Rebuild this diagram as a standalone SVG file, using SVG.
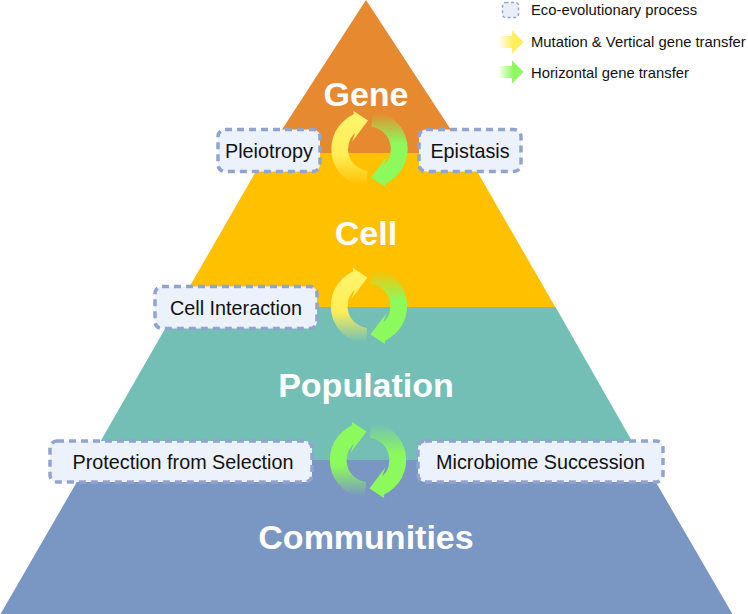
<svg xmlns="http://www.w3.org/2000/svg" xmlns:xlink="http://www.w3.org/1999/xlink" width="748" height="614" viewBox="0 0 748 614">
  <style>
    .lvl { font-family: "Liberation Sans", Arial, sans-serif; font-weight: bold; font-size: 34px; fill: #ffffff; text-anchor: middle; }
    .box rect { fill: #ECF2FB; stroke: #91A4CF; stroke-width: 3.5; stroke-dasharray: 7 5; }
    .box text { font-family: "Liberation Sans", Arial, sans-serif; font-size: 19.8px; fill: #111111; text-anchor: middle; }
    .leg { font-family: "Liberation Sans", Arial, sans-serif; font-size: 14.8px; fill: #111111; }
  </style>
  <defs>
    <linearGradient id="gy" x1="0" y1="0" x2="0" y2="1">
      <stop offset="0" stop-color="#FFF46C"/>
      <stop offset="0.58" stop-color="#FFEE58" stop-opacity="1"/>
      <stop offset="0.98" stop-color="#FFEE58" stop-opacity="0"/>
    </linearGradient>
    <linearGradient id="gg" x1="0" y1="0" x2="0" y2="1">
      <stop offset="0" stop-color="#8CF95C"/>
      <stop offset="0.58" stop-color="#8CF95C" stop-opacity="1"/>
      <stop offset="0.98" stop-color="#8CF95C" stop-opacity="0"/>
    </linearGradient>
    <linearGradient id="ly" x1="0" y1="0" x2="1" y2="0">
      <stop offset="0" stop-color="#FFEE58" stop-opacity="0"/>
      <stop offset="0.6" stop-color="#FFEE58" stop-opacity="1"/>
    </linearGradient>
    <linearGradient id="lg" x1="0" y1="0" x2="1" y2="0">
      <stop offset="0" stop-color="#8CF95C" stop-opacity="0"/>
      <stop offset="0.6" stop-color="#8CF95C" stop-opacity="1"/>
    </linearGradient>
    <path id="carrow" d="M -3.31 37.86 A 38 38 0 0 1 -15.7 -34.7 L -16.3 -38.2 L -1.5 -28.5 L -17.6 -7 L -14.2 -16.3 A 22 22 0 0 0 -1.92 21.92 Z"/>
  </defs>

  <g id="pyramid">
    <polygon id="band-gene" points="366,0 266.5,153.5 466.5,153.5" fill="#E6892F"/>
    <polygon id="band-cell" points="266.5,153 466.5,153 555.5,307.5 177.5,307.5" fill="#FFC000"/>
    <polygon id="band-population" points="177.5,307 555.5,307 643,460.5 89.5,460.5" fill="#73BFB5"/>
    <polygon id="band-communities" points="89.5,460 643,460 733,615 0,615" fill="#7A96C3"/>
  </g>

  <g id="labels">
    <text class="lvl" x="366" y="106">Gene</text>
    <text class="lvl" x="366" y="245">Cell</text>
    <text class="lvl" x="366" y="397">Population</text>
    <text class="lvl" x="366" y="549">Communities</text>
  </g>

  <g id="node-pleiotropy" class="box">
    <rect x="218" y="129.5" width="102" height="42" rx="7"/>
    <text x="269" y="158">Pleiotropy</text>
  </g>
  <g id="node-epistasis" class="box">
    <rect x="419" y="129.5" width="102" height="42" rx="7"/>
    <text x="470" y="158">Epistasis</text>
  </g>
  <g id="node-cell-interaction" class="box">
    <rect x="155" y="286.5" width="162" height="42" rx="7"/>
    <text x="236" y="315">Cell Interaction</text>
  </g>
  <g id="node-protection" class="box">
    <rect x="50" y="441" width="262" height="41" rx="7"/>
    <text x="183" y="469">Protection from Selection</text>
  </g>
  <g id="node-succession" class="box">
    <rect x="418" y="441" width="245" height="41" rx="7"/>
    <text x="540.5" y="469">Microbiome Succession</text>
  </g>

  <g id="connectors">
    <g id="cycle-gene" transform="translate(369.5,149)">
      <use xlink:href="#carrow" href="#carrow" fill="url(#gy)"/>
      <use xlink:href="#carrow" href="#carrow" fill="url(#gg)" transform="rotate(180)"/>
    </g>
    <g id="cycle-cell" transform="translate(369,306)">
      <use xlink:href="#carrow" href="#carrow" fill="url(#gy)"/>
      <use xlink:href="#carrow" href="#carrow" fill="url(#gg)" transform="rotate(180)"/>
    </g>
    <g id="cycle-population" transform="translate(368,460)">
      <use xlink:href="#carrow" href="#carrow" fill="url(#gg)"/>
      <use xlink:href="#carrow" href="#carrow" fill="url(#gg)" transform="rotate(180)"/>
    </g>
  </g>

  <g id="legend">
    <rect x="502.5" y="2.5" width="16" height="15" rx="3" fill="#E9EFF9" stroke="#91A4CF" stroke-width="1.5" stroke-dasharray="3 2.5"/>
    <text class="leg" x="531" y="15">Eco-evolutionary process</text>
    <path d="M498 36 H512 V30.5 L523.5 42 L512 53.5 V48 H498 Z" fill="url(#ly)"/>
    <text class="leg" x="531" y="47">Mutation &amp; Vertical gene transfer</text>
    <path d="M498 66 H512 V60.5 L523.5 72 L512 83.5 V78 H498 Z" fill="url(#lg)"/>
    <text class="leg" x="531" y="78">Horizontal gene transfer</text>
  </g>
</svg>
